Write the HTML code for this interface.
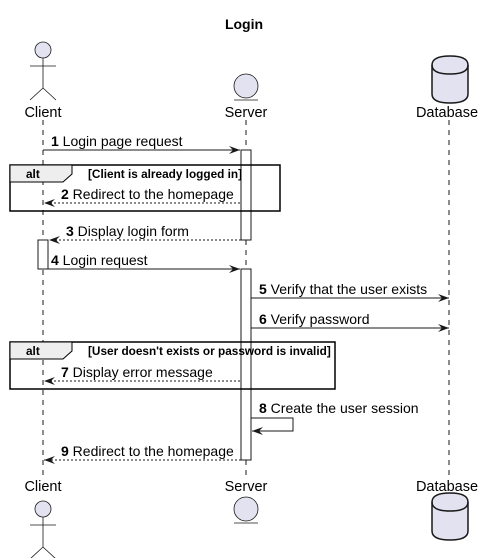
<!DOCTYPE html>
<html><head><meta charset="utf-8"><style>body{margin:0;background:#fff}svg{display:block}text{font-family:"Liberation Sans","DejaVu Sans",sans-serif}</style></head><body>
<svg width="484" height="558" viewBox="0 0 484 558" xmlns="http://www.w3.org/2000/svg">
<defs><marker id="a" markerWidth="12" markerHeight="10" refX="11" refY="5" orient="auto" markerUnits="userSpaceOnUse"><path d="M0,1 L11,5 L0,9 L4,5 Z" fill="#181818"/></marker></defs>
<text x="244" y="29" font-size="14" font-weight="bold" text-anchor="middle">Login</text>
<g stroke="#181818" stroke-width="1" stroke-dasharray="5,5">
<line x1="43" y1="120" x2="43" y2="475"/><line x1="246" y1="120" x2="246" y2="475"/><line x1="449" y1="120" x2="449" y2="475"/></g>
<g font-size="14.5" text-anchor="middle" fill="#000"><text x="43" y="117">Client</text><text x="246" y="117">Server</text><text x="447" y="117">Database</text>
<text x="43" y="491">Client</text><text x="246" y="491">Server</text><text x="447" y="491">Database</text></g>
<g fill="#E2E2F0" stroke="#181818" stroke-width="0.8">
<circle cx="43" cy="50" r="8"/><path d="M43,58 V88 M30,66 H56 M30,100 L43,88 L56,100" fill="none"/>
<circle cx="43" cy="509" r="8"/><path d="M43,517 V547 M30,525 H56 M30,559 L43,547 L56,559" fill="none"/>
<circle cx="246" cy="86" r="12"/><line x1="234" y1="100" x2="258" y2="100"/>
<circle cx="246" cy="509" r="12"/><line x1="234" y1="523" x2="258" y2="523"/>
</g>
<g fill="#E2E2F0" stroke="#181818" stroke-width="1.5">
<path d="M432,65 Q432,56 450,56 Q468,56 468,65 V94 Q468,103 450,103 Q432,103 432,94 Z"/><path d="M432,65 Q432,74 450,74 Q468,74 468,65" fill="none"/>
<path d="M432,502 Q432,493 450,493 Q468,493 468,502 V531 Q468,540 450,540 Q432,540 432,531 Z"/><path d="M432,502 Q432,511 450,511 Q468,511 468,502" fill="none"/>
</g>
<g fill="#fff" stroke="#181818" stroke-width="1">
<rect x="241" y="150" width="10" height="90"/><rect x="38" y="240" width="10" height="29"/><rect x="241" y="269" width="10" height="191"/></g>
<g stroke="#000" stroke-width="1.5" fill="none"><rect x="10" y="165" width="270" height="46"/><rect x="10" y="342" width="325" height="47"/></g>
<g stroke="#000" stroke-width="1" fill="#EEEEEE"><path d="M10,165 H72 V174 L63,182 H10 Z"/><path d="M10,342 H72 V351 L63,359 H10 Z"/></g>
<g font-size="11.8" font-weight="bold"><text x="26" y="178">alt</text><text x="26" y="355">alt</text>
<text x="88" y="178">[Client is already logged in]</text><text x="88" y="355">[User doesn't exists or password is invalid]</text></g>
<g stroke="#181818" stroke-width="1" fill="none">
<line x1="43" y1="150" x2="240" y2="150" marker-end="url(#a)"/>
<line x1="240" y1="203" x2="44" y2="203" stroke-dasharray="2,2" marker-end="url(#a)"/>
<line x1="241" y1="240" x2="49" y2="240" stroke-dasharray="2,2" marker-end="url(#a)"/>
<line x1="48" y1="269" x2="240" y2="269" marker-end="url(#a)"/>
<line x1="251" y1="298" x2="449" y2="298" marker-end="url(#a)"/>
<line x1="251" y1="328" x2="449" y2="328" marker-end="url(#a)"/>
<line x1="240" y1="381" x2="44" y2="381" stroke-dasharray="2,2" marker-end="url(#a)"/>
<path d="M251,418 H293 V431 H252" marker-end="url(#a)"/>
<line x1="241" y1="460" x2="44" y2="460" stroke-dasharray="2,2" marker-end="url(#a)"/>
</g>
<g font-size="14">
<text x="51" y="146"><tspan font-weight="bold">1</tspan> Login page request</text>
<text x="61" y="199"><tspan font-weight="bold">2</tspan> Redirect to the homepage</text>
<text x="66" y="236"><tspan font-weight="bold">3</tspan> Display login form</text>
<text x="51" y="265"><tspan font-weight="bold">4</tspan> Login request</text>
<text x="259" y="294"><tspan font-weight="bold">5</tspan> Verify that the user exists</text>
<text x="259" y="324"><tspan font-weight="bold">6</tspan> Verify password</text>
<text x="61" y="377"><tspan font-weight="bold">7</tspan> Display error message</text>
<text x="259" y="413"><tspan font-weight="bold">8</tspan> Create the user session</text>
<text x="61" y="456"><tspan font-weight="bold">9</tspan> Redirect to the homepage</text>
</g>
</svg>
</body></html>
